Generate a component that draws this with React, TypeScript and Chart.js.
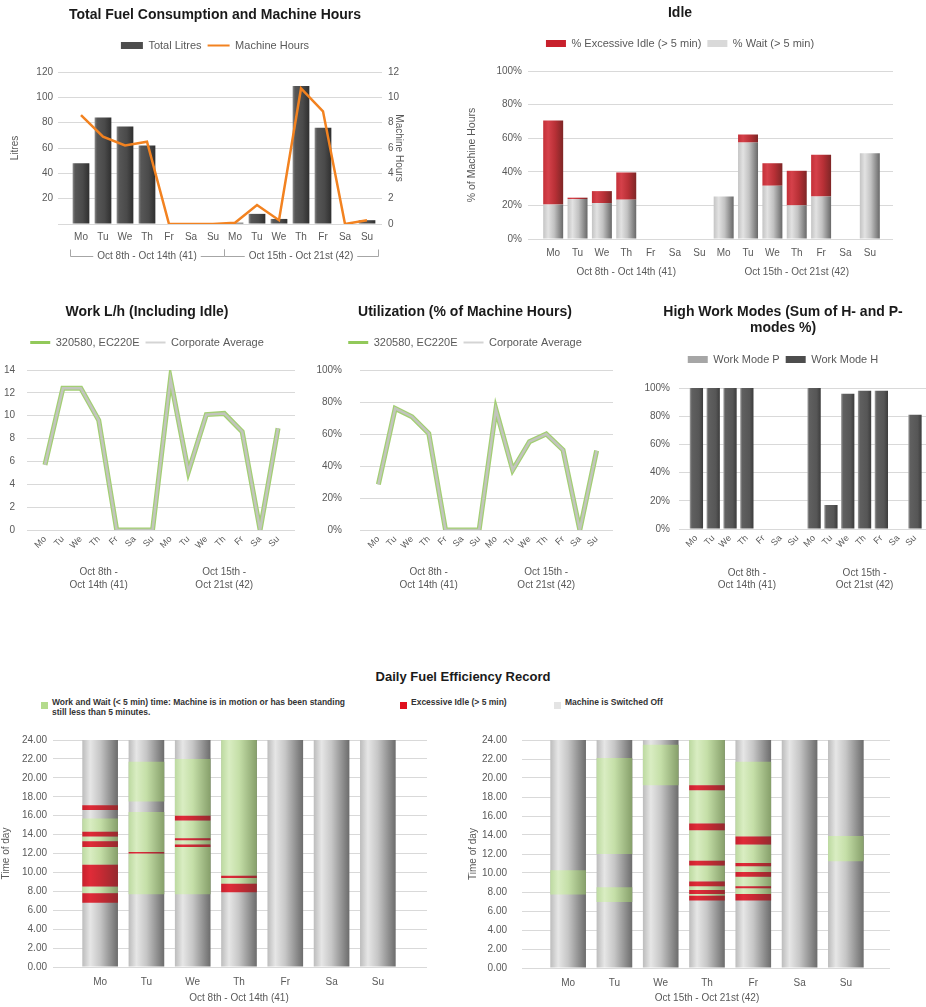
import { useEffect, useRef } from 'react';
import { Chart, registerables } from 'chart.js';

Chart.register(...registerables);

const FONT = "'Liberation Sans', Arial, Helvetica, sans-serif";
const TICK_COLOR = '#595959';
const GRID_COLOR = '#d9d9d9';
const TITLE_COLOR = '#1a1a1a';
Chart.defaults.font.family = FONT;
Chart.defaults.font.size = 10;
Chart.defaults.color = TICK_COLOR;

// ---------------- data ----------------
const dayNames = ['Mo', 'Tu', 'We', 'Th', 'Fr', 'Sa', 'Su'];
const twoWeekDays = ['Mo', 'Tu', 'We', 'Th', 'Fr', 'Sa', 'Su', 'Mo', 'Tu', 'We', 'Th', 'Fr', 'Sa', 'Su'];
const week41Label = 'Oct 8th - Oct 14th (41)';
const week42Label = 'Oct 15th - Oct 21st (42)';
const week41Lines = ['Oct 8th -', 'Oct 14th (41)'];
const week42Lines = ['Oct 15th -', 'Oct 21st (42)'];

const totalLitres = [48, 84, 77, 62, 0, 0, 0, 1, 8, 4, 109, 76, 0, 3];
const machineHours = [8.6, 6.9, 6.2, 6.5, 0, 0, 0, 0.1, 1.5, 0.3, 10.7, 8.9, 0, 0.3];

const waitPct = [20.5, 23.8, 21.4, 23.4, 0, 0, 0, 25.3, 57.4, 31.7, 20, 25.3, 0, 51.1];
const excessiveIdlePct = [50, 0.8, 7.1, 16.2, 0, 0, 0, 0, 4.8, 13.4, 20.6, 24.8, 0, 0];

const workLh = [5.7, 12.4, 12.4, 9.6, 0, 0, 0, 13.2, 5.1, 10.1, 10.2, 8.6, 0, 8.9];
const workLhCorporate = [5.7, 12.4, 12.4, 9.6, 0, 0, 0, 13.2, 5.1, 10.1, 10.2, 8.6, 0, 8.9];

const utilizationPct = [28.5, 76, 70.8, 60.4, 0, 0, 0, 75.4, 37.5, 55.2, 60, 50, 0, 49.6];
const utilizationCorporate = [28.5, 76, 70.8, 60.4, 0, 0, 0, 75.4, 37.5, 55.2, 60, 50, 0, 49.6];

const workModeP = [0, 0, 0, 0, 0, 0, 0, 0, 0, 0, 0, 0, 0, 0];
const workModeH = [100, 100, 100, 100, 0, 0, 0, 100, 17, 96, 98, 98, 0, 81];

// daily time-of-day segments [startHour, endHour, type] ; W = work/wait, I = excessive idle
type Seg = [number, number, string];
const switchedOffSpan = [0, 24];
const week41Segments: Seg[][] = [
  [[6.8, 7.8, 'I'], [7.8, 8.5, 'W'], [8.5, 10.8, 'I'], [10.8, 12.7, 'W'], [12.7, 13.3, 'I'], [13.3, 13.8, 'W'], [13.8, 14.3, 'I'], [14.3, 15.7, 'W'], [16.6, 17.1, 'I']],
  [[7.7, 12.0, 'W'], [12.0, 12.15, 'I'], [12.15, 16.4, 'W'], [17.5, 21.7, 'W']],
  [[7.7, 12.7, 'W'], [12.7, 12.95, 'I'], [12.95, 13.4, 'W'], [13.4, 13.6, 'I'], [13.6, 15.5, 'W'], [15.5, 16.0, 'I'], [16.0, 22.0, 'W']],
  [[7.9, 8.8, 'I'], [8.8, 9.4, 'W'], [9.4, 9.65, 'I'], [9.65, 24, 'W']],
  [],
  [],
  [],
];
const week42Segments: Seg[][] = [
  [[7.75, 10.3, 'W']],
  [[6.95, 8.5, 'W'], [12.0, 22.1, 'W']],
  [[19.25, 23.5, 'W']],
  [[7.1, 7.6, 'I'], [7.6, 7.8, 'W'], [7.8, 8.2, 'I'], [8.2, 8.6, 'W'], [8.6, 9.1, 'I'], [9.1, 10.8, 'W'], [10.8, 11.3, 'I'], [11.3, 14.5, 'W'], [14.5, 15.2, 'I'], [15.2, 18.7, 'W'], [18.7, 19.25, 'I'], [19.25, 24, 'W']],
  [[7.1, 7.8, 'I'], [7.8, 8.4, 'W'], [8.4, 8.6, 'I'], [8.6, 9.6, 'W'], [9.6, 10.1, 'I'], [10.1, 10.7, 'W'], [10.7, 11.05, 'I'], [11.05, 13.0, 'W'], [13.0, 13.85, 'I'], [13.85, 21.7, 'W']],
  [],
  [[11.25, 13.9, 'W']],
];

// ---------------- styles ----------------
const DARK_STOPS: [number, string][] = [[0, '#8c8c8c'], [0.14, '#575757'], [0.6, '#4a4a4a'], [1, '#2f2f2f']];
const MODE_H_STOPS: [number, string][] = [[0, '#a0a0a0'], [0.15, '#606060'], [0.7, '#565656'], [1, '#3c3c3c']];
const MODE_P_STOPS: [number, string][] = [[0, '#d4d4d4'], [1, '#8a8a8a']];
const GRAY_STOPS: [number, string][] = [[0, '#c4c4c4'], [0.25, '#e2e2e2'], [0.55, '#c2c2c2'], [1, '#686868']];
const IDLE_STOPS: [number, string][] = [[0, '#c43038'], [0.25, '#d5414a'], [0.6, '#b83036'], [1, '#7e2626']];
const OFF_STOPS: [number, string][] = [[0, '#bcbcbc'], [0.22, '#e6e6e6'], [0.5, '#c6c6c6'], [1, '#6c6c6c']];
const WORK_STOPS: [number, string][] = [[0, '#bcd9a0'], [0.22, '#d9edc2'], [0.5, '#c5dfa8'], [1, '#869f6a']];
const RED_STOPS: [number, string][] = [[0, '#c8202c'], [0.22, '#e02b38'], [0.5, '#c92a34'], [1, '#952a2e']];

function barGradient(stops: [number, string][], fallback: string, pct: number) {
  return (ctx: any) => {
    const chart = ctx.chart;
    const xs = chart.scales && chart.scales.x;
    if (ctx.type !== 'data' || !xs || !chart.chartArea) return fallback;
    const idx = ctx.parsed && ctx.parsed.x !== undefined ? ctx.parsed.x : ctx.dataIndex;
    const cx = xs.getPixelForValue(idx);
    const n = xs.getLabels().length;
    const cat = (xs.right - xs.left) / n;
    const w = cat * pct;
    if (!isFinite(cx) || !isFinite(w)) return fallback;
    const g = chart.ctx.createLinearGradient(cx - w / 2, 0, cx + w / 2, 0);
    stops.forEach(([o, c]) => g.addColorStop(o, c));
    return g;
  };
}

const legendGap = (gap: number) => ({
  id: 'legendGap',
  beforeInit(chart: any) {
    const legend = chart.legend;
    if (!legend) return;
    const orig = legend.fit;
    legend.fit = function () {
      orig.call(this);
      this.height += gap;
    };
  },
});

type Group = { from: number; to: number; lines: string[] };
const groupLabels = (groups: Group[], offset: number, lineH: number, bracket: boolean) => ({
  id: 'groupLabels',
  afterDraw(chart: any) {
    const xs = chart.scales.x;
    const ctx = chart.ctx;
    const base = chart.chartArea.bottom + offset;
    const n = xs.getLabels().length;
    const cat = (xs.right - xs.left) / n;
    ctx.save();
    ctx.font = `10px ${FONT}`;
    ctx.fillStyle = TICK_COLOR;
    ctx.textAlign = 'center';
    ctx.textBaseline = 'middle';
    ctx.strokeStyle = '#a6a6a6';
    ctx.lineWidth = 1;
    groups.forEach((g) => {
      const x0 = xs.getPixelForValue(g.from) - cat / 2;
      const x1 = xs.getPixelForValue(g.to) + cat / 2;
      const cx = (x0 + x1) / 2;
      g.lines.forEach((t, i) => ctx.fillText(t, cx, base + i * lineH));
      if (bracket) {
        const tw = ctx.measureText(g.lines[0]).width;
        const y = Math.round(base) + 0.5;
        const a = Math.round(x0) + 0.5;
        const b = Math.round(x1) + 0.5;
        ctx.beginPath();
        ctx.moveTo(a, y - 7);
        ctx.lineTo(a, y);
        ctx.lineTo(cx - tw / 2 - 4, y);
        ctx.moveTo(cx + tw / 2 + 4, y);
        ctx.lineTo(b, y);
        ctx.lineTo(b, y - 7);
        ctx.stroke();
      }
    });
    ctx.restore();
  },
});

const titleFont = { family: FONT, size: 14, weight: 'bold' as const };
const tickFont = { family: FONT, size: 10 };
const legendFont = { family: FONT, size: 11 };

function legendItem(text: string, color: string, pointStyle: string, lineWidth: number, i: number) {
  return { text, fillStyle: color, strokeStyle: color, lineWidth, pointStyle, datasetIndex: i, hidden: false, fontColor: TICK_COLOR };
}

// ---------------- chart configs ----------------
function fuelConfig(): any {
  return {
    type: 'bar',
    data: {
      labels: twoWeekDays,
      datasets: [
        { type: 'line', label: 'Machine Hours', data: machineHours, yAxisID: 'y1', borderColor: '#f28220', borderWidth: 2.5, pointRadius: 0, tension: 0, order: 1 },
        { type: 'bar', label: 'Total Litres', data: totalLitres, yAxisID: 'y', backgroundColor: barGradient(DARK_STOPS, '#4d4d4d', 0.76), barPercentage: 0.76, categoryPercentage: 1, order: 2 },
      ],
    },
    options: {
      responsive: false,
      animation: false,
      layout: { padding: { left: 20, right: 0, top: 0, bottom: 0 } },
      plugins: {
        tooltip: { enabled: false },
        title: { display: true, text: 'Total Fuel Consumption and Machine Hours', font: titleFont, color: TITLE_COLOR, padding: { top: 7, bottom: 10.2 } },
        legend: {
          labels: {
            usePointStyle: true, pointStyleWidth: 22, boxHeight: 7, padding: 6, font: legendFont, color: TICK_COLOR,
            generateLabels: () => [legendItem('Total Litres', '#4d4d4d', 'rect', 0, 1), legendItem('Machine Hours', '#f28220', 'line', 2, 0)],
          },
        },
      },
      scales: {
        x: {
          offset: true, grid: { display: false, drawTicks: false }, border: { display: false },
          ticks: { padding: 7, font: tickFont, color: TICK_COLOR, autoSkip: false, maxRotation: 0 },
          afterFit: (s: any) => { s.height = 48; },
        },
        y: {
          position: 'left', min: 0, max: 120,
          ticks: { stepSize: 20, padding: 5, font: tickFont, color: TICK_COLOR, callback: (v: any) => (v === 0 ? '' : v) },
          grid: { color: GRID_COLOR, tickLength: 12 }, border: { display: false },
          title: { display: true, text: 'Litres', font: tickFont, color: TICK_COLOR, padding: { top: -11, bottom: 0 } },
          afterFit: (s: any) => { s.width = 50; },
        },
        y1: {
          position: 'right', min: 0, max: 12,
          ticks: { stepSize: 2, padding: 6, font: tickFont, color: TICK_COLOR },
          grid: { display: true, drawOnChartArea: false, color: GRID_COLOR, tickLength: 4 }, border: { display: false },
          title: { display: true, text: 'Machine Hours', font: tickFont, color: TICK_COLOR, padding: { top: 5, bottom: 0 } },
          afterFit: (s: any) => { s.width = 32; },
        },
      },
    },
    plugins: [legendGap(11), groupLabels([{ from: 0, to: 6, lines: [week41Label] }, { from: 7, to: 13, lines: [week42Label] }], 32, 12, true)],
  };
}

function idleConfig(): any {
  return {
    type: 'bar',
    data: {
      labels: twoWeekDays,
      datasets: [
        { label: '% Wait (> 5 min)', data: waitPct, backgroundColor: barGradient(GRAY_STOPS, '#d9d9d9', 0.82), barPercentage: 0.82, categoryPercentage: 1 },
        { label: '% Excessive Idle (> 5 min)', data: excessiveIdlePct, backgroundColor: barGradient(IDLE_STOPS, '#c8202c', 0.82), barPercentage: 0.82, categoryPercentage: 1 },
      ],
    },
    options: {
      responsive: false,
      animation: false,
      layout: { padding: { left: 0, right: 6, top: 0, bottom: 0 } },
      plugins: {
        tooltip: { enabled: false },
        title: { display: true, text: 'Idle', font: titleFont, color: TITLE_COLOR, padding: { top: 5, bottom: 10.2 } },
        legend: {
          labels: {
            boxWidth: 20, boxHeight: 7, padding: 6, font: legendFont, color: TICK_COLOR,
            generateLabels: () => [legendItem('% Excessive Idle (> 5 min)', '#c8202c', 'rect', 0, 1), legendItem('% Wait (> 5 min)', '#d9d9d9', 'rect', 0, 0)],
          },
        },
      },
      scales: {
        x: {
          stacked: true, offset: true, grid: { display: false, drawTicks: false }, border: { display: false },
          ticks: { padding: 8, font: tickFont, color: TICK_COLOR, autoSkip: false, maxRotation: 0 },
          afterFit: (s: any) => { s.height = 46; },
        },
        y: {
          stacked: true, min: 0, max: 100,
          ticks: { stepSize: 20, padding: 6, font: tickFont, color: TICK_COLOR, callback: (v: any) => v + '%' },
          grid: { color: GRID_COLOR, tickLength: 13 }, border: { display: false },
          title: { display: true, text: '% of Machine Hours', font: { family: FONT, size: 10.5 }, color: TICK_COLOR, padding: { top: 26, bottom: 0 } },
          afterFit: (s: any) => { s.width = 101; },
        },
        y2: {
          position: 'right', min: 0, max: 100,
          ticks: { display: false, stepSize: 20 },
          grid: { display: true, drawOnChartArea: false, color: GRID_COLOR, tickLength: 11 }, border: { display: false },
          afterFit: (s: any) => { s.width = 38; },
        },
      },
    },
    plugins: [legendGap(12), groupLabels([{ from: 0, to: 6, lines: [week41Label] }, { from: 7, to: 13, lines: [week42Label] }], 33, 12, false)],
  };
}

function lineConfig(title: string, main: number[], corp: number[], max: number, step: number, pct: boolean, yWidth: number, yPad: number, yTick: number, rightPad: number, rightW: number, rightTick: number): any {
  return {
    type: 'line',
    data: {
      labels: twoWeekDays,
      datasets: [
        { label: '320580, EC220E', data: main, borderColor: '#a3cf73', borderWidth: 5, pointRadius: 0, tension: 0, order: 2 },
        { label: 'Corporate Average', data: corp, borderColor: '#c2c5bd', borderWidth: 2.5, pointRadius: 0, tension: 0, order: 1 },
      ],
    },
    options: {
      responsive: false,
      animation: false,
      layout: { padding: { left: 0, right: rightPad, top: 0, bottom: 0 } },
      plugins: {
        tooltip: { enabled: false },
        title: { display: true, text: title, font: titleFont, color: TITLE_COLOR, padding: { top: 13.6, bottom: 10.6 } },
        legend: {
          labels: {
            usePointStyle: true, pointStyleWidth: 20, boxHeight: 7, padding: 6, font: legendFont, color: TICK_COLOR,
            generateLabels: () => [legendItem('320580, EC220E', '#92c95a', 'line', 3, 0), legendItem('Corporate Average', '#d4d4d4', 'line', 2, 1)],
          },
        },
      },
      scales: {
        x: {
          offset: true, grid: { display: false, drawTicks: false }, border: { display: false },
          ticks: { padding: 4, font: { family: FONT, size: 9 }, color: TICK_COLOR, autoSkip: false, minRotation: 45, maxRotation: 45 },
          afterFit: (s: any) => { s.height = 80; },
        },
        y: {
          min: 0, max,
          ticks: { stepSize: step, padding: yPad, font: tickFont, color: TICK_COLOR, callback: (v: any) => (pct ? v + '%' : v) },
          grid: { color: GRID_COLOR, tickLength: yTick }, border: { display: false },
          afterFit: (s: any) => { s.width = yWidth; },
        },
        y2: {
          position: 'right', min: 0, max,
          ticks: { display: false, stepSize: step },
          grid: { display: true, drawOnChartArea: false, color: GRID_COLOR, tickLength: rightTick }, border: { display: false },
          afterFit: (s: any) => { s.width = rightW; },
        },
      },
    },
    plugins: [legendGap(12), groupLabels([{ from: 0, to: 6, lines: week41Lines }, { from: 7, to: 13, lines: week42Lines }], 42, 13, false)],
  };
}

function modesConfig(): any {
  return {
    type: 'bar',
    data: {
      labels: twoWeekDays,
      datasets: [
        { label: 'Work Mode P', data: workModeP, backgroundColor: barGradient(MODE_P_STOPS, '#a6a6a6', 0.79), barPercentage: 0.79, categoryPercentage: 1 },
        { label: 'Work Mode H', data: workModeH, backgroundColor: barGradient(MODE_H_STOPS, '#505050', 0.79), barPercentage: 0.79, categoryPercentage: 1 },
      ],
    },
    options: {
      responsive: false,
      animation: false,
      layout: { padding: 0 },
      plugins: {
        tooltip: { enabled: false },
        title: { display: true, text: ['High Work Modes (Sum of H- and P-', 'modes %)'], font: { ...titleFont, lineHeight: 16 / 14 }, color: TITLE_COLOR, padding: { top: 14, bottom: 12 } },
        legend: {
          labels: {
            boxWidth: 20, boxHeight: 7, padding: 6, font: legendFont, color: TICK_COLOR,
            generateLabels: () => [legendItem('Work Mode P', '#a6a6a6', 'rect', 0, 0), legendItem('Work Mode H', '#4d4d4d', 'rect', 0, 1)],
          },
        },
      },
      scales: {
        x: {
          stacked: true, offset: true, grid: { display: false, drawTicks: false }, border: { display: false },
          ticks: { padding: 4, font: { family: FONT, size: 9 }, color: TICK_COLOR, autoSkip: false, minRotation: 45, maxRotation: 45 },
          afterFit: (s: any) => { s.height = 81; },
        },
        y: {
          stacked: true, min: 0, max: 100,
          ticks: { stepSize: 20, padding: 9, font: tickFont, color: TICK_COLOR, callback: (v: any) => v + '%' },
          grid: { color: GRID_COLOR, tickLength: 9 }, border: { display: false },
          afterFit: (s: any) => { s.width = 68; },
        },
        y2: {
          position: 'right', min: 0, max: 100,
          ticks: { display: false, stepSize: 20 },
          grid: { display: true, drawOnChartArea: false, color: GRID_COLOR, tickLength: 22 }, border: { display: false },
          afterFit: (s: any) => { s.width = 22.6; },
        },
      },
    },
    plugins: [legendGap(13), groupLabels([{ from: 0, to: 6, lines: week41Lines }, { from: 7, to: 13, lines: week42Lines }], 44, 12, false)],
  };
}

function efficiencyConfig(segs: Seg[][], weekLabel: string, yWidth: number, yPad: number, yTick: number, titlePad: number, rightW: number, rightTick: number, xHeight: number, topPad: number): any {
  const pts = (type: string) =>
    segs.flatMap((daySegs, i) => daySegs.filter((s) => s[2] === type).map((s) => ({ x: dayNames[i], y: [s[0], s[1]] })));
  const common = { grouped: false, barPercentage: 0.77, categoryPercentage: 1 };
  return {
    type: 'bar',
    data: {
      labels: dayNames,
      datasets: [
        { label: 'Machine is Switched Off', data: dayNames.map((d) => ({ x: d, y: [switchedOffSpan[0], switchedOffSpan[1]] })), backgroundColor: barGradient(OFF_STOPS, '#d0d0d0', 0.77), order: 3, ...common },
        { label: 'Work and Wait', data: pts('W'), backgroundColor: barGradient(WORK_STOPS, '#c5dfa8', 0.77), order: 2, ...common },
        { label: 'Excessive Idle', data: pts('I'), backgroundColor: barGradient(RED_STOPS, '#c92a34', 0.77), order: 1, ...common },
      ],
    },
    options: {
      responsive: false,
      animation: false,
      layout: { padding: { left: 0, right: 0, top: topPad, bottom: 0 } },
      plugins: { tooltip: { enabled: false }, legend: { display: false }, title: { display: false } },
      scales: {
        x: {
          offset: true, grid: { display: false, drawTicks: false }, border: { display: false },
          ticks: { padding: 9, font: tickFont, color: TICK_COLOR, autoSkip: false, maxRotation: 0 },
          title: { display: true, text: weekLabel, font: tickFont, color: TICK_COLOR, padding: { top: 0, bottom: 3 } },
          afterFit: (s: any) => { s.height = xHeight; },
        },
        y: {
          min: 0, max: 24,
          ticks: { stepSize: 2, padding: yPad, font: tickFont, color: TICK_COLOR, callback: (v: any) => Number(v).toFixed(2) },
          grid: { color: GRID_COLOR, tickLength: yTick }, border: { display: false },
          title: { display: true, text: 'Time of day', font: tickFont, color: TICK_COLOR, padding: { top: titlePad, bottom: 0 } },
          afterFit: (s: any) => { s.width = yWidth; },
        },
        y2: {
          position: 'right', min: 0, max: 24,
          ticks: { display: false, stepSize: 2 },
          grid: { display: true, drawOnChartArea: false, color: GRID_COLOR, tickLength: rightTick }, border: { display: false },
          afterFit: (s: any) => { s.width = rightW; },
        },
      },
    },
  };
}

// ---------------- components ----------------
function ChartCanvas({ make, left, top, width, height }: { make: () => any; left: number; top: number; width: number; height: number }) {
  const ref = useRef<HTMLCanvasElement>(null);
  useEffect(() => {
    const chart = new Chart(ref.current as HTMLCanvasElement, make());
    return () => chart.destroy();
  }, []);
  return <canvas ref={ref} width={width} height={height} style={{ position: 'absolute', left, top, width, height }} />;
}

const legendText: any = { position: 'absolute', top: 698, fontFamily: FONT, fontWeight: 'bold', fontSize: 8.5, lineHeight: '9.5px', color: '#333', whiteSpace: 'nowrap' };
const legendSquare = (left: number, color: string): any => ({ position: 'absolute', left, top: 702, width: 7, height: 7, background: color });

export default function App() {
  return (
    <div style={{ position: 'absolute', left: 0, top: 0, width: 926, height: 1007, overflow: 'hidden', background: '#fff' }}>
      <ChartCanvas make={fuelConfig} left={0} top={0} width={410} height={272} />
      <ChartCanvas make={idleConfig} left={440} top={0} width={486} height={285} />
      <ChartCanvas make={() => lineConfig('Work L/h (Including Idle)', workLh, workLhCorporate, 14, 2, false, 36, 12, 9, 16, 7, 8)} left={0} top={290} width={310} height={320} />
      <ChartCanvas make={() => lineConfig('Utilization (% of Machine Hours)', utilizationPct, utilizationCorporate, 100, 20, true, 60, 18, 10, 0, 15, 8)} left={310} top={290} width={310} height={320} />
      <ChartCanvas make={modesConfig} left={620} top={290} width={326} height={320} />

      <div style={{ position: 'absolute', left: 0, top: 669, width: 926, textAlign: 'center', fontFamily: FONT, fontWeight: 'bold', fontSize: 13, lineHeight: '16px', color: TITLE_COLOR }}>
        Daily Fuel Efficiency Record
      </div>
      <div style={legendSquare(41, '#b4db8c')} />
      <div style={{ ...legendText, left: 52 }}>
        Work and Wait (&lt; 5 min) time: Machine is in motion or has been standing
        <br />
        still less than 5 minutes.
      </div>
      <div style={legendSquare(400, '#e0101e')} />
      <div style={{ ...legendText, left: 411 }}>Excessive Idle (&gt; 5 min)</div>
      <div style={legendSquare(554, '#e4e4e4')} />
      <div style={{ ...legendText, left: 565 }}>Machine is Switched Off</div>

      <ChartCanvas make={() => efficiencyConfig(week41Segments, week41Label, 77, 6, 24, 0, 59, 26, 40, 15)} left={0} top={725} width={460} height={282} />
      <ChartCanvas make={() => efficiencyConfig(week42Segments, week42Label, 85, 15, 23, 7, 57, 21, 39, 15)} left={460} top={719} width={466} height={288} />
    </div>
  );
}
